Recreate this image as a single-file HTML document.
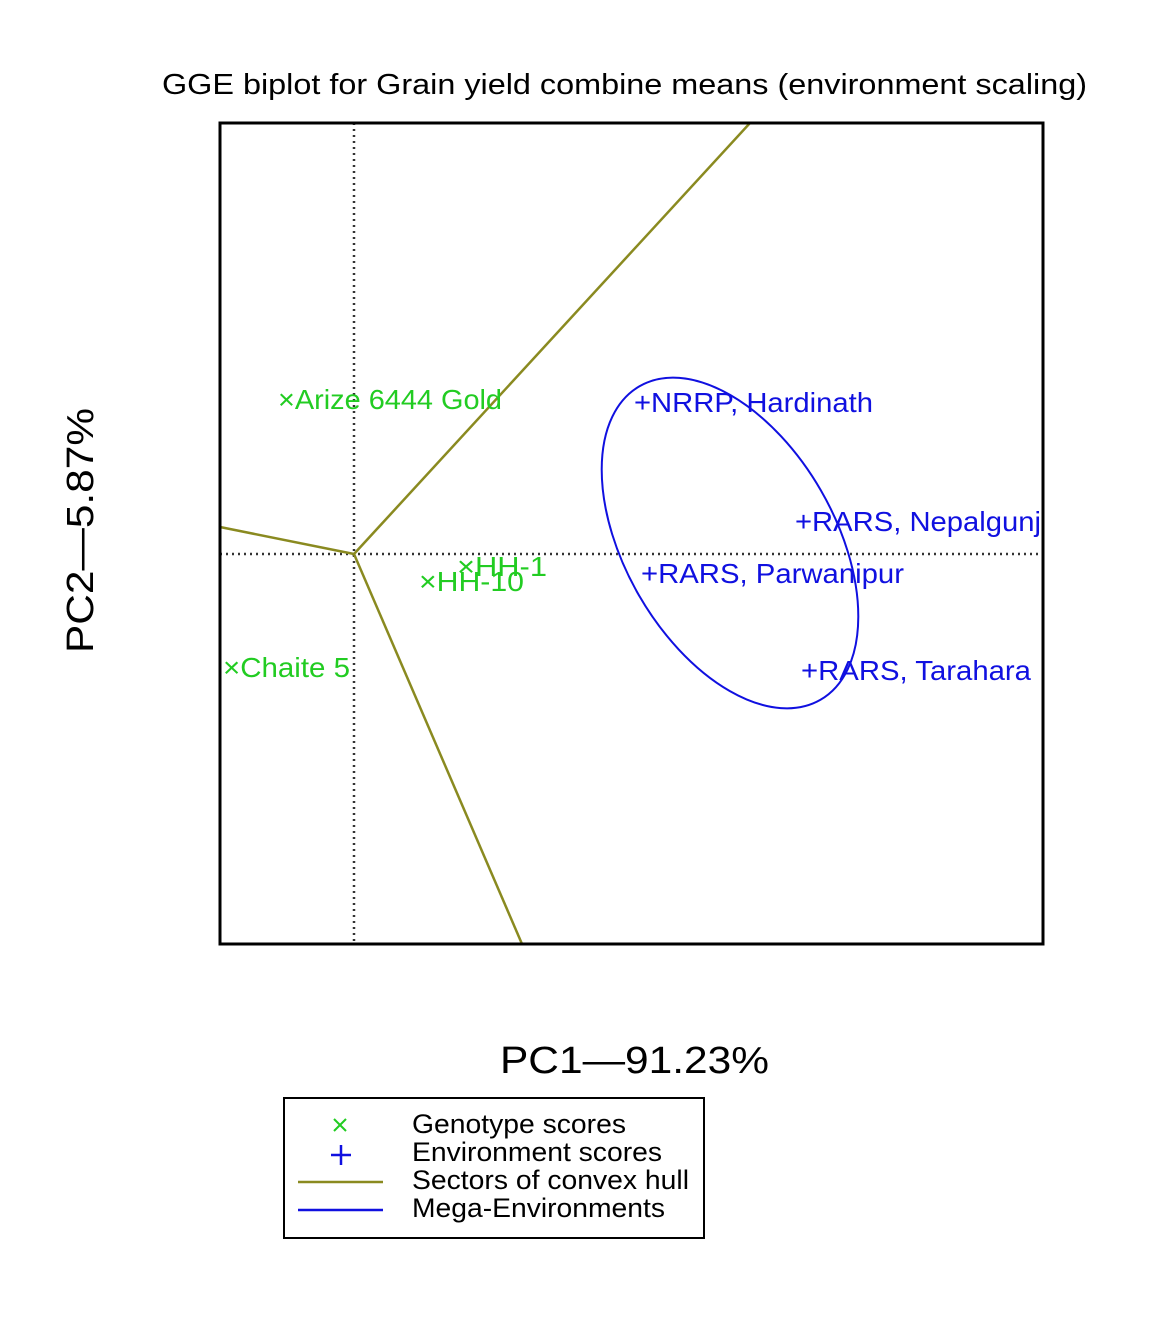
<!DOCTYPE html>
<html><head><style>html,body{margin:0;padding:0;background:#fff}svg{display:block}</style></head>
<body>
<svg width="1172" height="1319" viewBox="0 0 1172 1319" xmlns="http://www.w3.org/2000/svg" font-family="Liberation Sans, sans-serif">
<rect width="1172" height="1319" fill="#fff"/>
<text x="162" y="94" font-size="29" textLength="925" lengthAdjust="spacingAndGlyphs" fill="#000">GGE biplot for Grain yield combine means (environment scaling)</text>
<line x1="220" y1="554" x2="1043" y2="554" stroke="#333" stroke-width="2.5" stroke-dasharray="2,4"/>
<line x1="354" y1="123" x2="354" y2="944" stroke="#333" stroke-width="2.5" stroke-dasharray="2,4"/>
<g stroke="#8a8a20" stroke-width="2.5" fill="none">
<line x1="354" y1="554" x2="750" y2="123"/>
<line x1="354" y1="554" x2="220" y2="527"/>
<line x1="354" y1="554" x2="522" y2="944"/>
</g>
<ellipse cx="730" cy="543" rx="181" ry="105" transform="rotate(60 730 543)" fill="none" stroke="#1010e0" stroke-width="2"/>
<g fill="#22cc22" font-size="28">
<text x="278" y="409" textLength="224" lengthAdjust="spacingAndGlyphs">×Arize 6444 Gold</text>
<text x="457" y="576" textLength="90" lengthAdjust="spacingAndGlyphs">×HH-1</text>
<text x="419" y="591" textLength="105" lengthAdjust="spacingAndGlyphs">×HH-10</text>
<text x="223" y="677" textLength="127" lengthAdjust="spacingAndGlyphs">×Chaite 5</text>
</g>
<g fill="#1010e0" font-size="28">
<text x="634" y="412" textLength="239" lengthAdjust="spacingAndGlyphs">+NRRP, Hardinath</text>
<text x="795" y="531" textLength="246" lengthAdjust="spacingAndGlyphs">+RARS, Nepalgunj</text>
<text x="641" y="583" textLength="263" lengthAdjust="spacingAndGlyphs">+RARS, Parwanipur</text>
<text x="801" y="680" textLength="230" lengthAdjust="spacingAndGlyphs">+RARS, Tarahara</text>
</g>
<rect x="220" y="123" width="823" height="821" fill="none" stroke="#000" stroke-width="3"/>
<text x="500" y="1073" font-size="38" textLength="269" lengthAdjust="spacingAndGlyphs" fill="#000">PC1—91.23%</text>
<text transform="translate(93,653) rotate(-90)" font-size="38" textLength="245" lengthAdjust="spacingAndGlyphs" fill="#000">PC2—5.87%</text>
<rect x="284" y="1098" width="420" height="140" fill="#fff" stroke="#000" stroke-width="2"/>
<g stroke="#22cc22" stroke-width="2"><line x1="334" y1="1119" x2="346" y2="1131"/><line x1="346" y1="1119" x2="334" y2="1131"/></g>
<g stroke="#1010e0" stroke-width="2.5"><line x1="331" y1="1155" x2="351" y2="1155"/><line x1="341" y1="1145" x2="341" y2="1165"/></g>
<line x1="298" y1="1182" x2="383" y2="1182" stroke="#8a8a20" stroke-width="2.5"/>
<line x1="298" y1="1210" x2="383" y2="1210" stroke="#1010e0" stroke-width="2.5"/>
<g font-size="27" fill="#000">
<text x="412" y="1133" textLength="214" lengthAdjust="spacingAndGlyphs">Genotype scores</text>
<text x="412" y="1161" textLength="250" lengthAdjust="spacingAndGlyphs">Environment scores</text>
<text x="412" y="1189" textLength="277" lengthAdjust="spacingAndGlyphs">Sectors of convex hull</text>
<text x="412" y="1217" textLength="253" lengthAdjust="spacingAndGlyphs">Mega-Environments</text>
</g>
</svg>
</body></html>
